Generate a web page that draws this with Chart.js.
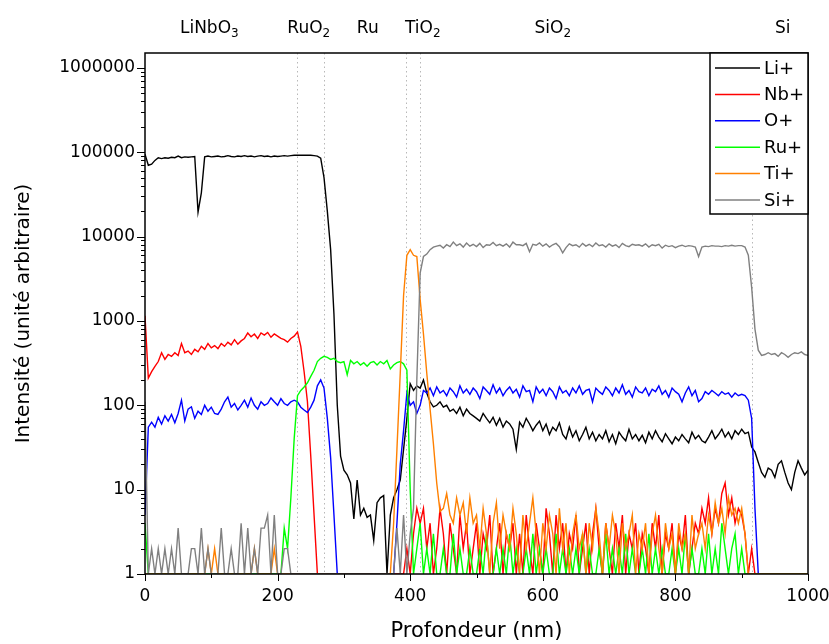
<!DOCTYPE html>
<html lang="fr">
<head>
<meta charset="UTF-8">
<title>Profil SIMS</title>
<script src="https://cdn.jsdelivr.net/npm/chart.js"></script>
<style>
  html, body { margin: 0; padding: 0; background: #fff; }
</style>
</head>
<body>
<canvas id="sims" width="829" height="644"></canvas>
<script>
// profondeur (nm), pas de 5 nm
const depth = [
  0, 5, 10, 15, 20, 25, 30, 35, 40, 45,
  50, 55, 60, 65, 70, 75, 80, 85, 90, 95,
  100, 105, 110, 115, 120, 125, 130, 135, 140, 145,
  150, 155, 160, 165, 170, 175, 180, 185, 190, 195,
  200, 205, 210, 215, 220, 225, 230, 235, 240, 245,
  250, 255, 260, 265, 270, 275, 280, 285, 290, 295,
  300, 305, 310, 315, 320, 325, 330, 335, 340, 345,
  350, 355, 360, 365, 370, 375, 380, 385, 390, 395,
  400, 405, 410, 415, 420, 425, 430, 435, 440, 445,
  450, 455, 460, 465, 470, 475, 480, 485, 490, 495,
  500, 505, 510, 515, 520, 525, 530, 535, 540, 545,
  550, 555, 560, 565, 570, 575, 580, 585, 590, 595,
  600, 605, 610, 615, 620, 625, 630, 635, 640, 645,
  650, 655, 660, 665, 670, 675, 680, 685, 690, 695,
  700, 705, 710, 715, 720, 725, 730, 735, 740, 745,
  750, 755, 760, 765, 770, 775, 780, 785, 790, 795,
  800, 805, 810, 815, 820, 825, 830, 835, 840, 845,
  850, 855, 860, 865, 870, 875, 880, 885, 890, 895,
  900, 905, 910, 915, 920, 925, 930, 935, 940, 945,
  950, 955, 960, 965, 970, 975, 980, 985, 990, 995,
  1000
];

const li = [
  95000, 70000, 72000, 80000, 86000, 84000, 86000, 85000, 87000, 86000,
  90000, 86000, 88000, 87000, 88000, 89000, 19500, 33000, 88000, 90000,
  88000, 89000, 90000, 88000, 89000, 91000, 89000, 88000, 90000, 89000,
  91000, 89000, 90000, 88000, 90000, 91000, 89000, 90000, 88000, 90000,
  89000, 90000, 91000, 90000, 91000, 92000, 92000, 92000, 92000, 92000,
  92000, 91000, 90000, 85000, 50000, 20000, 7000, 1200, 100, 25,
  17, 15, 12, 4.5, 13, 5, 6, 4.7, 5, 2.5,
  7, 8, 8.5, 1, 5, 8, 10, 13, 30, 70,
  180, 150, 170, 160, 200, 140, 110, 96, 100, 110,
  95, 100, 85, 90, 80, 95, 75, 90, 80, 75,
  70, 65, 80, 70, 62, 72, 58, 70, 55, 65,
  60, 52, 30, 63, 55, 70, 60, 50, 58, 65,
  50, 60, 45, 55, 50, 62, 45, 40, 55, 42,
  50, 38, 45, 55, 40, 48, 38, 45, 40, 50,
  37, 45, 35, 48, 42, 38, 52, 40, 45, 38,
  44, 36, 48, 40, 50, 42, 37, 46, 40, 35,
  42, 38, 45, 40, 36, 48, 40, 44, 38, 36,
  42, 50, 40, 45, 52, 42, 48, 40, 50, 45,
  52, 46, 48, 32, 28, 21, 16, 14, 18, 17,
  14, 20, 22, 16, 12, 10, 16, 22, 18, 15,
  17
];

const nb = [
  1150, 210, 250, 290, 330, 420, 350, 400, 380, 420,
  390, 540, 420, 440, 400, 460, 430, 500, 460, 540,
  480, 510, 470, 540, 500, 560, 520, 600, 530, 580,
  620, 720, 650, 700, 620, 720, 680, 730, 640, 700,
  660, 620, 600, 560, 620, 660, 740, 500, 250, 110,
  25, 5, 1, 1, 1, 1, 1, 1, 1, 1,
  1, 1, 1, 1, 1, 1, 1, 1, 1, 1,
  1, 1, 1, 1, 1, 1, 1, 1, 1, 2,
  1, 3, 6, 4, 6, 2, 4, 1, 2, 6,
  3, 1, 4, 2, 1, 5, 2, 4, 1, 2,
  4, 1, 3, 2, 5, 1, 2, 4, 1, 3,
  2, 4, 1, 3, 1, 5, 2, 1, 4, 2,
  1, 6, 3, 1, 5, 2, 4, 1, 3, 2,
  5, 1, 2, 4, 1, 3, 6, 2, 1, 4,
  2, 1, 4, 2, 5, 1, 3, 2, 4, 1,
  3, 2, 1, 4, 2, 5, 1, 3, 2, 4,
  1, 3, 2, 5, 1, 2, 4, 3, 6, 4,
  8, 3, 6, 4, 9, 12, 5, 8, 4, 6,
  5, 3, 1, 2, 1, 1, 1, 1, 1, 1,
  1, 1, 1, 1, 1, 1, 1, 1, 1, 1,
  1
];

const o = [
  5, 55, 63, 55, 72, 60, 75, 65, 78, 62,
  80, 115, 65, 90, 96, 70, 85, 78, 100, 85,
  95, 80, 78, 90, 110, 125, 95, 105, 88, 100,
  115, 95, 122, 100, 90, 110, 100, 105, 122, 110,
  100, 120, 105, 100, 110, 115, 110, 95, 88, 82,
  95, 115, 170, 200, 160, 70, 24, 5, 1, 1,
  1, 1, 1, 1, 1, 1, 1, 1, 1, 1,
  1, 1, 1, 1, 1, 1, 4, 20, 50, 140,
  100, 110, 80, 100, 150, 140, 160, 130, 165, 140,
  150, 130, 160, 145, 125, 170, 140, 155, 135, 160,
  145, 120, 165, 150, 135, 175, 140, 160, 130, 150,
  165, 140, 155, 125, 170, 145, 150, 110, 165, 140,
  155, 130, 160, 145, 120, 165, 140, 150, 130, 160,
  140, 170, 135, 150, 155, 110, 160, 145, 135, 165,
  150, 130, 160, 140, 175, 135, 150, 125, 165, 145,
  140, 160, 130, 155, 145, 170, 135, 150, 125, 160,
  145, 135, 110, 140, 165, 130, 150, 110, 120, 145,
  135, 150, 140, 130, 145, 135, 140, 125, 140, 130,
  135, 130, 115, 70, 6, 1, 1, 1, 1, 1,
  1, 1, 1, 1, 1, 1, 1, 1, 1, 1,
  1
];

const ru = [
  4, 1, 1, 1, 1, 1, 1, 1, 1, 1,
  1, 1, 1, 1, 1, 1, 1, 1, 1, 1,
  1, 1, 1, 1, 1, 1, 1, 1, 1, 1,
  1, 1, 1, 1, 1, 1, 1, 1, 1, 1,
  1, 1, 3.5, 2, 8, 40, 130, 150, 165, 185,
  220, 260, 330, 360, 380, 370, 350, 360, 330, 320,
  330, 230, 340, 310, 330, 300, 320, 290, 320, 330,
  300, 330, 310, 340, 270, 300, 320, 330, 310, 260,
  10, 1, 2, 4, 1, 2, 1, 3, 1, 1,
  2, 1, 1, 3, 1, 2, 1, 1, 2, 1,
  1, 2, 1, 3, 1, 1, 2, 1, 2, 1,
  3, 1, 2, 1, 1, 2, 1, 3, 1, 2,
  1, 2, 1, 1, 3, 1, 2, 1, 2, 1,
  2, 1, 3, 1, 2, 1, 1, 2, 1, 3,
  1, 2, 1, 2, 1, 3, 1, 2, 1, 1,
  2, 1, 3, 1, 2, 1, 2, 1, 1, 2,
  1, 2, 1, 3, 1, 2, 1, 1, 2, 1,
  3, 1, 2, 1, 4, 2, 1, 2, 3, 1,
  2, 1, 1, 1, 1, 1, 1, 1, 1, 1,
  1, 1, 1, 1, 1, 1, 1, 1, 1, 1,
  1
];

const ti = [
  1, 1, 1, 1, 1, 1, 1, 1, 1, 1,
  1, 1, 1, 1, 1, 1, 1, 1, 1, 2,
  1, 2, 1, 1, 1, 1, 1, 1, 1, 1,
  1, 1, 1, 2, 1, 1, 1, 1, 1, 2,
  1, 1, 1, 1, 1, 1, 1, 1, 1, 1,
  1, 1, 1, 1, 1, 1, 1, 1, 1, 1,
  1, 1, 1, 1, 1, 1, 1, 1, 1, 1,
  1, 1, 1, 1, 1, 4, 30, 240, 2000, 6000,
  7000, 6000, 5800, 1800, 700, 240, 90, 35, 12, 5.5,
  6, 9, 5, 4, 8, 5, 7, 3, 8, 4,
  5, 2, 6, 3, 1, 4, 7, 2, 5, 3,
  2, 6, 3, 1, 5, 2, 4, 8, 3, 1,
  4, 2, 5, 3, 1, 6, 2, 4, 1, 3,
  5, 2, 3, 1, 4, 2, 6, 3, 1, 4,
  2, 5, 3, 1, 4, 2, 3, 5, 1, 3,
  2, 4, 1, 3, 5, 2, 1, 4, 2, 3,
  1, 4, 2, 3, 1, 5, 2, 3, 4, 2,
  5, 3, 7, 4, 6, 3, 8, 5, 6, 4,
  6, 3, 1, 1, 1, 1, 1, 1, 1, 1,
  1, 1, 1, 1, 1, 1, 1, 1, 1, 1,
  1
];

const si = [
  110, 1, 2, 1, 2, 1, 2, 1, 2, 1,
  3.5, 1, 1, 1, 2, 2, 1, 3.5, 1, 2,
  1, 1, 1, 3.5, 1, 1, 2, 1, 1, 4,
  1, 3.5, 1, 2, 1, 3.5, 3.5, 5, 1, 5,
  1, 1, 2, 2, 1, 1, 1, 1, 1, 1,
  1, 1, 1, 1, 1, 1, 1, 1, 1, 1,
  1, 1, 1, 1, 1, 1, 1, 1, 1, 1,
  1, 1, 1, 1, 1, 1, 3.5, 1, 5, 1,
  3, 6, 200, 3700, 5800, 6200, 7000, 7500, 7700, 7900,
  7300, 8000, 7600, 8600, 7800, 8200, 7500, 8400, 7700, 8100,
  7600, 8300, 7400, 8000, 7900, 8500, 7800, 8100, 7700, 8200,
  7500, 8600, 8000, 8000, 7800, 8300, 6600, 8100, 7900, 8400,
  7700, 8200, 7500, 8000, 8300, 7600, 6400, 7400, 8200, 7800,
  8000, 7500, 8300, 7700, 8100, 7600, 8400, 7800, 8000, 7500,
  8200, 7700, 8000, 7400, 8300, 7800, 7600, 8100, 7900, 8000,
  7700, 8200, 7500, 8000, 7800, 8100, 7300, 7900, 7600, 7800,
  7400, 7700, 7900, 7600, 7800, 7700, 7500, 5800, 7500, 7700,
  7600, 7800, 7700, 7700, 7600, 7800, 7700, 7900, 7700, 7800,
  7800, 7500, 6000, 2500, 800, 450, 390, 400, 420, 400,
  410, 380, 420, 400, 370, 400, 420, 410, 430, 400,
  390
];

const seriesNames = ['Li+', 'Nb+', 'O+', 'Ru+', 'Ti+', 'Si+'];
const seriesColors = ['#000000', '#ff0000', '#0000ff', '#00ff00', '#ff8000', '#808080'];

// couches (nom, indice) et leur centre en nm
const layerNames = [['LiNbO', '3'], ['RuO', '2'], ['Ru', ''], ['TiO', '2'], ['SiO', '2'], ['Si', '']];
const layerCenters = [97, 247, 336, 419, 615, 962];
const interfaces = [229, 270, 394, 415, 915];

const FONT = 'DejaVu Sans';
const allSeries = [li, nb, o, ru, ti, si];

const datasets = allSeries.map((vals, i) => ({
  label: seriesNames[i],
  data: depth.map((d, k) => ({ x: d, y: vals[k] })),
  borderColor: seriesColors[i],
  borderWidth: 1.4,
  pointRadius: 0,
  tension: 0,
  fill: false,
  order: allSeries.length - 1 - i
}));

const isDecade = v => {
  const r = Math.round(Math.log10(v));
  return Math.abs(v - Math.pow(10, r)) < 1e-6 * v;
};

const decor = {
  id: 'decor',
  beforeDatasetsDraw(chart) {
    const { ctx, chartArea: a, scales: { x } } = chart;
    ctx.save();
    ctx.strokeStyle = '#b8b8b8';
    ctx.lineWidth = 1;
    ctx.setLineDash([1.5, 3]);
    interfaces.forEach(d => {
      const px = Math.round(x.getPixelForValue(d)) + 0.5;
      ctx.beginPath();
      ctx.moveTo(px, a.top);
      ctx.lineTo(px, a.bottom);
      ctx.stroke();
    });
    ctx.restore();
  },
  afterDraw(chart) {
    const { ctx, chartArea: a, scales: { x, y } } = chart;
    ctx.save();
    ctx.strokeStyle = '#000';
    ctx.lineWidth = 1.5;
    ctx.strokeRect(a.left, a.top, a.right - a.left, a.bottom - a.top);

    // graduations y (log)
    ctx.lineWidth = 1;
    for (let d = 0; d <= 6; d++) {
      for (let m = 1; m <= 9; m++) {
        const v = m * Math.pow(10, d);
        if (v > y.max) break;
        const py = Math.round(y.getPixelForValue(v)) + 0.5;
        const len = m === 1 ? 8 : 4;
        ctx.beginPath();
        ctx.moveTo(a.left, py);
        ctx.lineTo(a.left - len, py);
        ctx.stroke();
      }
    }
    // graduations x
    for (let v = 0; v <= 1000; v += 100) {
      const px = Math.round(x.getPixelForValue(v)) + 0.5;
      const len = v % 200 === 0 ? 7 : 4;
      ctx.beginPath();
      ctx.moveTo(px, a.bottom);
      ctx.lineTo(px, a.bottom + len);
      ctx.stroke();
    }

    // noms des couches
    ctx.fillStyle = '#000';
    ctx.textBaseline = 'alphabetic';
    layerNames.forEach(([main, sub], i) => {
      ctx.font = `17px "${FONT}"`;
      const w1 = ctx.measureText(main).width;
      ctx.font = `12px "${FONT}"`;
      const w2 = sub ? ctx.measureText(sub).width : 0;
      const cx = x.getPixelForValue(layerCenters[i]);
      const left = cx - (w1 + w2) / 2;
      ctx.font = `17px "${FONT}"`;
      ctx.textAlign = 'left';
      ctx.fillText(main, left, 33);
      if (sub) {
        ctx.font = `12px "${FONT}"`;
        ctx.fillText(sub, left + w1, 37);
      }
    });

    // légende
    const lw = 98, lh = 161;
    const lx = a.right - lw, ly = a.top;
    ctx.fillStyle = '#fff';
    ctx.fillRect(lx, ly, lw, lh);
    ctx.lineWidth = 1.5;
    ctx.strokeStyle = '#000';
    ctx.strokeRect(lx, ly, lw, lh);
    ctx.font = `18px "${FONT}"`;
    ctx.textBaseline = 'middle';
    chart.data.datasets.forEach((ds, i) => {
      const ry = ly + 15 + i * 26.4;
      ctx.strokeStyle = ds.borderColor;
      ctx.lineWidth = 1.5;
      ctx.beginPath();
      ctx.moveTo(lx + 5, ry);
      ctx.lineTo(lx + 50, ry);
      ctx.stroke();
      ctx.fillStyle = '#000';
      ctx.fillText(ds.label, lx + 54, ry + 1);
    });
    ctx.restore();
  }
};

new Chart(document.getElementById('sims'), {
  type: 'line',
  data: { datasets },
  options: {
    responsive: false,
    devicePixelRatio: 1,
    animation: false,
    layout: { padding: { top: 53, right: 21, left: 0, bottom: 0 } },
    plugins: { legend: { display: false }, tooltip: { enabled: false } },
    scales: {
      x: {
        type: 'linear', min: 0, max: 1000,
        grid: { display: false, drawTicks: false },
        border: { display: false },
        ticks: {
          stepSize: 200, padding: 12, maxRotation: 0, color: '#000', font: { family: FONT, size: 17 },
          callback: v => String(v)
        },
        title: { display: true, text: 'Profondeur (nm)', color: '#000', font: { family: FONT, size: 21 }, padding: { top: 0, bottom: 0 } },
        afterFit: s => { s.height = 70; s.paddingLeft = 0; s.paddingRight = 0; }
      },
      y: {
        type: 'logarithmic', min: 1, max: 1500000,
        grid: { display: false, drawTicks: false },
        border: { display: false },
        ticks: {
          autoSkip: false, padding: 10, color: '#000', font: { family: FONT, size: 17 },
          callback: v => isDecade(v) ? String(Math.round(v)) : ''
        },
        title: { display: true, text: 'Intensité (unité arbitraire)', color: '#000', font: { family: FONT, size: 20 }, padding: { top: 12, bottom: 0 } },
        afterFit: s => { s.width = 145; s.paddingTop = 0; s.paddingBottom = 0; }
      }
    }
  },
  plugins: [decor]
});
</script>
</body>
</html>
